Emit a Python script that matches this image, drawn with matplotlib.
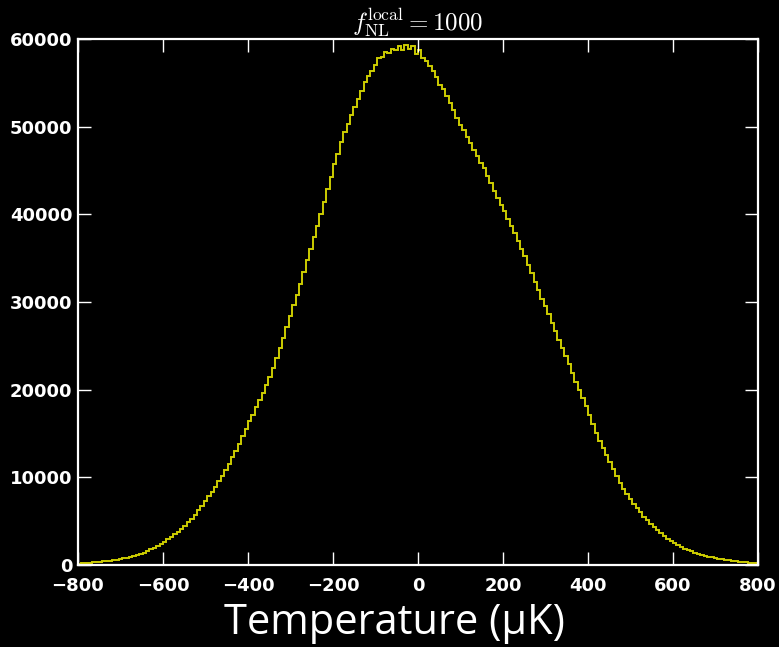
import numpy as np
import matplotlib
matplotlib.use("Agg")
import matplotlib.pyplot as plt
import matplotlib.transforms as mtransforms

# Temperature histogram of the simulated map: 200 bins of 8 uK between -800 and 800 uK
bin_edges_range = (-800, 800)
n_bins = 200
counts = [
    165, 190, 225, 265, 300, 340, 380, 420, 465, 505,
    560, 620, 680, 760, 850, 940, 1040, 1150, 1270, 1420,
    1590, 1780, 1990, 2200, 2430, 2660, 2930, 3220, 3520, 3820,
    4150, 4490, 4880, 5300, 5750, 6220, 6750, 7300, 7830, 8380,
    8950, 9560, 10180, 10840, 11560, 12300, 13020, 13850, 14700, 15550,
    16380, 17150, 17980, 18810, 19650, 20500, 21420, 22500, 23580, 24750,
    25950, 27200, 28400, 29650, 30800, 32050, 33400, 34750, 36050, 37400,
    38700, 40000, 41400, 42850, 44300, 45700, 46900, 48200, 49400, 50300,
    51300, 52200, 53200, 54100, 55100, 55800, 56400, 57000, 57800, 57900,
    58500, 58400, 58900, 58700, 59200, 58800, 59300, 58900, 59200, 58300,
    58700, 57800, 57500, 56900, 56300, 55700, 54800, 54300, 53500, 52700,
    51900, 51000, 50200, 49600, 48800, 48100, 47300, 46700, 45900, 45300,
    44400, 43600, 42700, 41900, 41100, 40400, 39500, 38700, 37900, 37000,
    36100, 35200, 34200, 33300, 32300, 31400, 30400, 29500, 28600, 27600,
    26700, 25700, 24800, 23800, 22900, 21900, 20900, 20000, 19000, 18100,
    17100, 16100, 15100, 14200, 13300, 12500, 11700, 10900, 10100, 9400,
    8700, 8100, 7500, 7000, 6500, 6000, 5500, 5100, 4700, 4320,
    3960, 3620, 3300, 3000, 2720, 2480, 2270, 2070, 1880, 1710,
    1560, 1410, 1280, 1160, 1050, 960, 870, 790, 720, 650,
    590, 530, 480, 430, 390, 350, 310, 275, 240, 210,
]
x_ticks = [-800, -600, -400, -200, 0, 200, 400, 600, 800]
y_ticks = [0, 10000, 20000, 30000, 40000, 50000, 60000]
title_text = r"$f_{\rm NL}^{\rm local}=1000$"
xlabel_text = "Temperature (\u03bcK)"

plt.rcParams["mathtext.fontset"] = "cm"

fig = plt.figure(figsize=(7.79, 6.47), dpi=100, facecolor="black")
ax = fig.add_axes([0.1001, 0.1267, 0.8729, 0.8130], facecolor="black")

edges = np.linspace(bin_edges_range[0], bin_edges_range[1], n_bins + 1)
ax.stairs(counts, edges, color="#cccc00", linewidth=1.4)

ax.set_xlim(bin_edges_range)
ax.set_ylim(0, 60000)
ax.set_xticks(x_ticks)
ax.set_yticks(y_ticks)
ax.set_xticklabels([f"{t}".replace("-", "\u2212") for t in x_ticks])
ax.set_yticklabels([str(t) for t in y_ticks])

for side in ax.spines.values():
    side.set_color("white")
    side.set_linewidth(1.6)

ax.tick_params(axis="both", which="major", direction="in", length=9.5, width=1.0,
               color="white", top=True, right=True, labelcolor="white",
               labelsize=13)
ax.tick_params(axis="x", pad=7)
ax.tick_params(axis="y", pad=4)
for lab in ax.get_xticklabels() + ax.get_yticklabels():
    lab.set_fontweight("bold")

# nudge the x tick labels a little lower so the corner labels stay apart
shift_down = mtransforms.ScaledTranslation(0, -1.5 / 72, fig.dpi_scale_trans)
for lab in ax.get_xticklabels():
    lab.set_transform(lab.get_transform() + shift_down)

ax.set_title(title_text, color="white", fontsize=18, pad=6)
ax.set_xlabel(xlabel_text, color="white", fontsize=30, family="Open Sans", labelpad=5)
ax.xaxis.label.set_x(0.466)

fig.savefig("out.png", dpi=100, facecolor="black")
